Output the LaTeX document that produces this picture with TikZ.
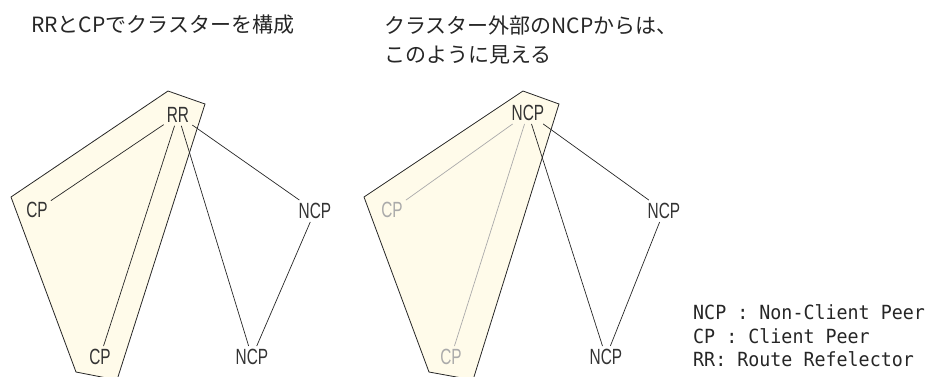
\documentclass[tikz,border=0pt]{standalone}
\usepackage{fontspec}
\setmainfont{Liberation Sans}
\newfontfamily\jpfont{Noto Sans CJK JP}
\newfontfamily\nodefont[FakeStretch=0.7]{Liberation Sans}
\newfontfamily\legfont[FakeStretch=0.94]{DejaVu Sans Mono}
\definecolor{cream}{HTML}{FFFBEA}
\definecolor{txt}{HTML}{333333}
\definecolor{faded}{HTML}{AAAAAA}
\begin{document}
\begin{tikzpicture}[x=1pt,y=-1pt,
  peer/.style={font={\nodefont\fontsize{22}{24}\selectfont}, text=txt, inner sep=3pt},
  fadedpeer/.style={peer, text=faded},
  link/.style={draw=black!85, line width=0.7pt},
  fadedlink/.style={draw=faded, line width=0.7pt},
  cluster/.style={fill=cream, draw=black!85, line width=0.8pt},
  title/.style={font={\jpfont\fontsize{21}{28.5}\selectfont}, text=black!85, inner sep=0pt, align=left, anchor=west},
  legend/.style={font={\legfont\fontsize{19.5}{23.5}\selectfont}, text=black!85, inner sep=0pt, align=left, anchor=west}]
\useasboundingbox (0,0) rectangle (930,376);
\clip (0,0) rectangle (930,376);

% cluster outlines
\draw[cluster] (168,91) -- (205,104) -- (117,380) -- (76,372) -- (11,197) -- cycle;
\draw[cluster] (523,91) -- (559,104) -- (473,380) -- (429,372) -- (364,197) -- cycle;

% titles
\node[title] (t1) at (31,25) {RRとCPでクラスターを構成};
\node[title] (t2) at (384,40) {クラスター外部のNCPからは、\\このように見える};

% left panel
\node[peer] (rr) at (178,115) {RR};
\node[peer] (cpl) at (37,210) {CP};
\node[peer] (cpb) at (100,357) {CP};
\node[peer] (ncpr) at (315,211) {NCP};
\node[peer] (ncpb) at (252,357) {NCP};
\draw[link] (rr) -- (cpl);
\draw[link] (rr) -- (cpb);
\draw[link] (rr) -- (ncpb);
\draw[link] (rr) -- (ncpr);
\draw[link] (ncpr) -- (ncpb);

% right panel
\node[peer] (ncpt) at (528,113) {NCP};
\node[fadedpeer] (cpl2) at (392,210) {CP};
\node[fadedpeer] (cpb2) at (451,357) {CP};
\node[peer] (ncpr2) at (664,211) {NCP};
\node[peer] (ncpb2) at (606,357) {NCP};
\draw[fadedlink] (ncpt) -- (cpl2);
\draw[fadedlink] (ncpt) -- (cpb2);
\draw[link] (ncpt) -- (ncpb2);
\draw[link] (ncpt) -- (ncpr2);
\draw[link] (ncpr2) -- (ncpb2);

% legend
\node[legend] (leg) at (693,336) {NCP : Non-Client Peer\\CP : Client Peer\\RR: Route Refelector};
\end{tikzpicture}
\end{document}
